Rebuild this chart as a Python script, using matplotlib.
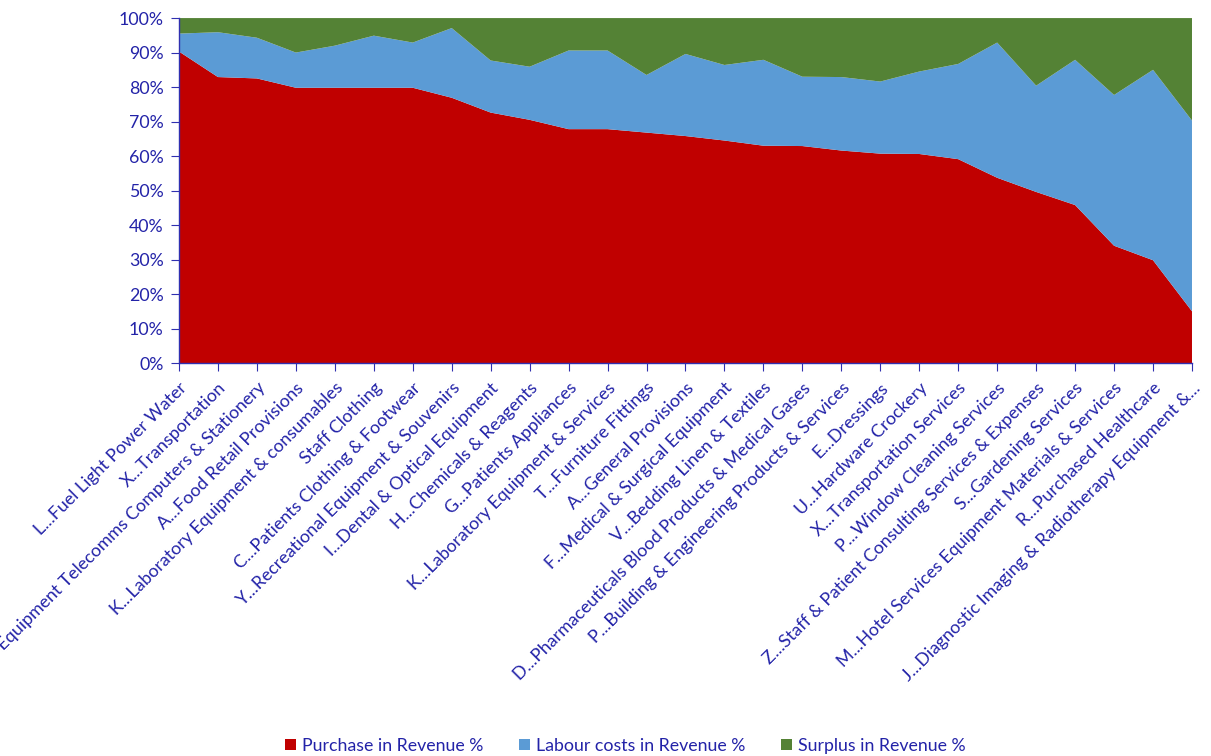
import matplotlib.pyplot as plt
import numpy as np
from matplotlib.ticker import PercentFormatter
from matplotlib.patches import Patch

categories = [
    'L...Fuel Light Power Water',
    'X...Transportation',
    'B...Office Equipment Telecomms Computers & Stationery',
    'A...Food Retail Provisions',
    'K...Laboratory Equipment & consumables',
    'Staff Clothing',
    'C...Patients Clothing & Footwear',
    'Y...Recreational Equipment & Souvenirs',
    'I...Dental & Optical Equipment',
    'H...Chemicals & Reagents',
    'G...Patients Appliances',
    'K...Laboratory Equipment & Services',
    'T...Furniture Fittings',
    'A...General Provisions',
    'F...Medical & Surgical Equipment',
    'V...Bedding Linen & Textiles',
    'D...Pharmaceuticals Blood Products & Medical Gases',
    'P...Building & Engineering Products & Services',
    'E...Dressings',
    'U...Hardware Crockery',
    'X...Transportation Services',
    'P...Window Cleaning Services',
    'Z...Staff & Patient Consulting Services & Expenses',
    'S...Gardening Services',
    'M...Hotel Services Equipment Materials & Services',
    'R...Purchased Healthcare',
    'J...Diagnostic Imaging & Radiotherapy Equipment &...',
]

purchase = [90.3, 82.9, 82.5, 79.8, 79.8, 79.8, 79.8, 76.9, 72.6, 70.5,
            67.8, 67.8, 66.8, 65.8, 64.5, 63.0, 62.9, 61.6, 60.7, 60.6,
            59.1, 53.7, 49.6, 45.8, 34.0, 29.8, 15.0]
labour = [5.2, 13.0, 11.8, 10.2, 12.2, 15.1, 13.1, 20.2, 15.1, 15.4,
          22.8, 22.8, 16.7, 23.8, 21.9, 24.9, 20.1, 21.3, 20.9, 23.9,
          27.6, 39.2, 30.8, 42.1, 43.7, 55.2, 55.3]
surplus = [4.5, 4.1, 5.7, 10.0, 8.0, 5.1, 7.1, 2.9, 12.3, 14.1,
           9.4, 9.4, 16.5, 10.4, 13.6, 12.1, 17.0, 17.1, 18.4, 15.5,
           13.3, 7.1, 19.6, 12.1, 22.3, 15.0, 29.7]

series_names = ['Purchase in Revenue %', 'Labour costs in Revenue %', 'Surplus in Revenue %']
colors = ['#C00000', '#5B9BD5', '#548235']
text_color = '#2323A8'

plt.rcParams['font.family'] = ['Lato', 'DejaVu Sans']

fig = plt.figure(figsize=(12.11, 7.56), dpi=100)
ax = fig.add_axes([0.1478, 0.5198, 0.8365, 0.4563])

x = np.arange(len(categories))
ax.stackplot(x, purchase, labour, surplus, colors=colors, linewidth=0)

ax.set_xlim(0, len(categories) - 1)
ax.set_ylim(0, 100)
ax.set_yticks(np.arange(0, 101, 10))
ax.yaxis.set_major_formatter(PercentFormatter(decimals=0))
ax.set_xticks(x)
ax.set_xticklabels(categories, rotation=45, ha='right', rotation_mode='anchor')

for s in ['top', 'right']:
    ax.spines[s].set_visible(False)
for s in ['left', 'bottom']:
    ax.spines[s].set_color('#3030B0')
    ax.spines[s].set_linewidth(1.0)

ax.tick_params(axis='both', colors='#3030B0', labelcolor=text_color, labelsize=12.8,
               length=6, direction='out')
ax.tick_params(axis='x', pad=6)
ax.tick_params(axis='y', pad=5)

handles = [Patch(facecolor=c, label=n) for c, n in zip(colors, series_names)]
fig.legend(handles=handles, loc='lower center', bbox_to_anchor=(0.5165, -0.018), ncol=3,
           frameon=False, fontsize=12.8, labelcolor=text_color,
           handlelength=0.6, handleheight=0.6, handletextpad=0.35, columnspacing=2.0)

fig.savefig('out.png', dpi=100)
